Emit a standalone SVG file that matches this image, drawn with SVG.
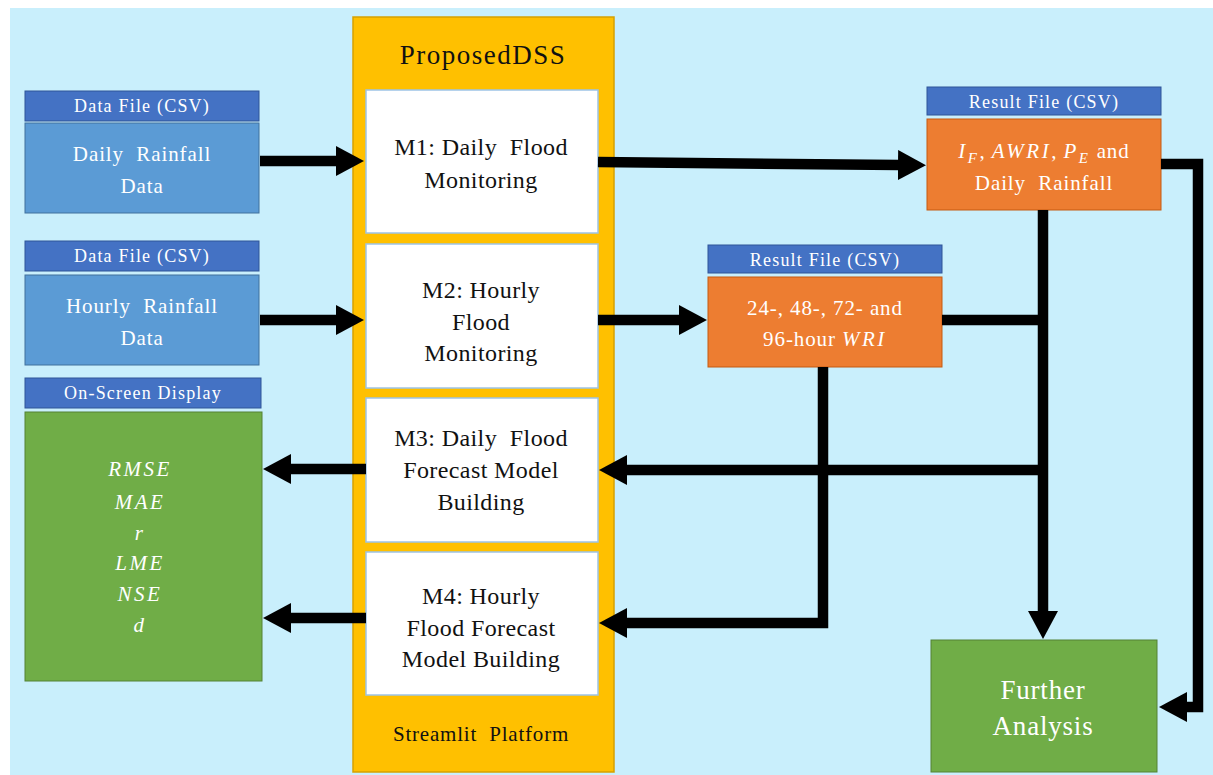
<svg xmlns="http://www.w3.org/2000/svg" width="1213" height="775" viewBox="0 0 1213 775">
<style>
text{font-family:"Liberation Serif","Times New Roman",serif;text-anchor:middle}
.hdr{fill:#4472C4;stroke:#2F5597;stroke-width:1}
.hdrt{font-size:18px;fill:#fff;letter-spacing:1.2px}
.blue{fill:#5B9BD5;stroke:#41719C;stroke-width:1}
.wt{fill:#fff;font-size:21px;letter-spacing:0.9px}
.mod{fill:#fff;stroke:#9DC3E6;stroke-width:1.5}
.bk{fill:#111;font-size:24px;letter-spacing:0.4px}
.orange{fill:#ED7D31;stroke:#C55A11;stroke-width:1}
.green{fill:#70AD47;stroke:#548235;stroke-width:1}
.math{font-style:italic;letter-spacing:2.5px}
.conn{fill:none;stroke:#000;stroke-width:10.5;stroke-linejoin:miter}
</style>
<defs>
<marker id="ah" markerUnits="userSpaceOnUse" markerWidth="28" markerHeight="30" refX="1" refY="15" orient="auto" viewBox="0 0 28 30">
<path d="M0,0 L28,15 L0,30 z" fill="#000"/>
</marker>
</defs>
<rect x="0" y="0" width="1213" height="775" fill="#fff"/>
<rect x="10" y="8" width="1203" height="767" fill="#C9EFFC"/>

<g id="platform">
<rect x="353" y="17" width="261" height="755" fill="#FFC000" stroke="#D6A100" stroke-width="1.5"/>
<text x="483" y="64" font-size="27" fill="#111" letter-spacing="1.5">ProposedDSS</text>
<text x="481" y="741" font-size="21" fill="#111" letter-spacing="0.8">Streamlit&#160; Platform</text>
</g>

<g id="m1">
<rect class="mod" x="366" y="90" width="232" height="143"/>
<text class="bk" x="481" y="155">M1: Daily&#160; Flood</text>
<text class="bk" x="481" y="188">Monitoring</text>
</g>
<g id="m2">
<rect class="mod" x="366" y="244" width="232" height="144"/>
<text class="bk" x="481" y="298">M2: Hourly</text>
<text class="bk" x="481" y="330">Flood</text>
<text class="bk" x="481" y="361">Monitoring</text>
</g>
<g id="m3">
<rect class="mod" x="366" y="398" width="232" height="144"/>
<text class="bk" x="481" y="446">M3: Daily&#160; Flood</text>
<text class="bk" x="481" y="478">Forecast Model</text>
<text class="bk" x="481" y="510">Building</text>
</g>
<g id="m4">
<rect class="mod" x="366" y="552" width="232" height="143"/>
<text class="bk" x="481" y="604">M4: Hourly</text>
<text class="bk" x="481" y="636">Flood Forecast</text>
<text class="bk" x="481" y="667">Model Building</text>
</g>

<g id="daily-data">
<rect class="hdr" x="25" y="91" width="234" height="30"/>
<text class="hdrt" x="142" y="112">Data File (CSV)</text>
<rect class="blue" x="25" y="123" width="234" height="90"/>
<text class="wt" x="142" y="161">Daily&#160; Rainfall</text>
<text class="wt" x="142" y="193">Data</text>
</g>
<g id="hourly-data">
<rect class="hdr" x="25" y="241" width="234" height="30"/>
<text class="hdrt" x="142" y="262">Data File (CSV)</text>
<rect class="blue" x="25" y="275" width="234" height="90"/>
<text class="wt" x="142" y="313">Hourly&#160; Rainfall</text>
<text class="wt" x="142" y="345">Data</text>
</g>
<g id="display">
<rect class="hdr" x="25" y="378" width="236" height="30"/>
<text class="hdrt" x="143" y="399">On-Screen Display</text>
<rect class="green" x="25" y="412" width="237" height="269"/>
<text class="wt math" x="140" y="476">RMSE</text>
<text class="wt math" x="140" y="509">MAE</text>
<text class="wt math" x="140" y="540">r</text>
<text class="wt math" x="140" y="570">LME</text>
<text class="wt math" x="140" y="601">NSE</text>
<text class="wt math" x="140" y="632">d</text>
</g>

<g id="result-daily">
<rect class="hdr" x="927" y="87" width="234" height="28"/>
<text class="hdrt" x="1044" y="108" font-size="17">Result File (CSV)</text>
<rect class="orange" x="927" y="119" width="234" height="91"/>
<text class="wt" x="1044" y="158"><tspan class="math">I</tspan><tspan class="math" font-size="15" dy="5">F</tspan><tspan dy="-5">, </tspan><tspan class="math">AWRI</tspan><tspan>, </tspan><tspan class="math">P</tspan><tspan class="math" font-size="15" dy="5">E</tspan><tspan dy="-5"> and</tspan></text>
<text class="wt" x="1044" y="190" letter-spacing="0.2">Daily&#160; Rainfall</text>
</g>
<g id="result-hourly">
<rect class="hdr" x="708" y="245" width="234" height="28"/>
<text class="hdrt" x="825" y="266" font-size="17">Result File (CSV)</text>
<rect class="orange" x="708" y="277" width="234" height="90"/>
<text class="wt" x="825" y="315">24-, 48-, 72- and</text>
<text class="wt" x="825" y="346">96-hour <tspan class="math">WRI</tspan></text>
</g>

<g id="further">
<rect class="green" x="931" y="640" width="226" height="132"/>
<text x="1043" y="699" font-size="27" fill="#fff" letter-spacing="0.8">Further</text>
<text x="1043" y="735" font-size="27" fill="#fff" letter-spacing="0.8">Analysis</text>
</g>

<g id="connectors">
<path class="conn" d="M260,161 H337" marker-end="url(#ah)"/>
<path class="conn" d="M260,320 H337" marker-end="url(#ah)"/>
<path class="conn" d="M598,162 L899,165" marker-end="url(#ah)"/>
<path class="conn" d="M598,320 H680" marker-end="url(#ah)"/>
<path class="conn" d="M1161,164 H1198 V707 H1186" marker-end="url(#ah)"/>
<path class="conn" d="M1043,210 V612" marker-end="url(#ah)"/>
<path class="conn" d="M942,320 H1048"/>
<path class="conn" d="M1048,470 H626" marker-end="url(#ah)"/>
<path class="conn" d="M823,367 V623 H626" marker-end="url(#ah)"/>
<path class="conn" d="M366,469 H290" marker-end="url(#ah)"/>
<path class="conn" d="M366,618 H290" marker-end="url(#ah)"/>
</g>
</svg>
